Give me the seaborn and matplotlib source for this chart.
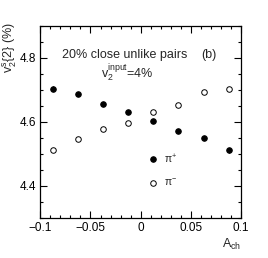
import matplotlib.pyplot as plt
import matplotlib
import numpy as np
import seaborn as sns
import pandas as pd
from matplotlib.ticker import MultipleLocator

sns.set_theme(style='ticks')
matplotlib.rcParams['font.family'] = ['Liberation Sans', 'DejaVu Sans']
matplotlib.rcParams['mathtext.fontset'] = 'custom'
matplotlib.rcParams['mathtext.rm'] = 'Liberation Sans'
matplotlib.rcParams['mathtext.it'] = 'Liberation Sans'

a_ch = [-0.0875, -0.0625, -0.0375, -0.0125, 0.0125, 0.0375, 0.0625, 0.0875]
v2_pip = [4.704, 4.688, 4.657, 4.630, 4.602, 4.572, 4.549, 4.511]
v2_pim = [4.512, 4.547, 4.578, 4.597, 4.632, 4.654, 4.693, 4.702]
err_pip = [0.007, 0.003, 0.003, 0.003, 0.003, 0.003, 0.003, 0.007]
err_pim = [0.007, 0.003, 0.003, 0.003, 0.003, 0.003, 0.003, 0.007]

df = pd.DataFrame({'A_ch': a_ch * 2,
                   'v2': v2_pip + v2_pim,
                   'err': err_pip + err_pim,
                   'particle': ['pip'] * 8 + ['pim'] * 8})

fig, ax = plt.subplots(figsize=(2.68, 2.58), dpi=100)
fig.subplots_adjust(left=0.15, right=0.9, top=0.9, bottom=0.155)

for name, face in [('pip', 'black'), ('pim', 'white')]:
    sub = df[df['particle'] == name]
    ax.errorbar(sub['A_ch'], sub['v2'], yerr=sub['err'], fmt='none',
                ecolor='black', elinewidth=0.8, capsize=0, zorder=2)
    sns.scatterplot(data=sub, x='A_ch', y='v2', ax=ax, color=face,
                    edgecolor='black', linewidth=0.7, s=16, zorder=3, legend=False)

ax.set_xlim(-0.1, 0.1)
ax.set_ylim(4.3, 4.9)
ax.xaxis.set_major_locator(MultipleLocator(0.05))
ax.xaxis.set_minor_locator(MultipleLocator(0.01))
ax.yaxis.set_major_locator(MultipleLocator(0.2))
ax.yaxis.set_minor_locator(MultipleLocator(0.05))
ax.set_xticks([-0.1, -0.05, 0, 0.05, 0.1])
ax.set_xticklabels(['\u22120.1', '\u22120.05', '0', '0.05', '0.1'])
ax.tick_params(which='both', direction='in', top=True, right=True,
               labelsize=8.5, width=0.8, colors='black', pad=3)
ax.tick_params(which='major', length=5)
ax.tick_params(which='minor', length=2.5)
for s in ax.spines.values():
    s.set_linewidth(0.9)
    s.set_color('black')

ax.set_xlabel('')
ax.set_ylabel('')
ax.text(-0.15, 0.885, r'v$_2^{\rm s}${2} (%)', fontsize=9, rotation=90,
        ha='center', va='center', transform=ax.transAxes)
ax.text(0.1, 4.24, r'A$_{\rm ch}$', fontsize=9, ha='right', va='top')

ax.text(-0.078, 4.808, '20% close unlike pairs', fontsize=9, va='center')
ax.text(0.060, 4.808, '(b)', fontsize=9, va='center')
ax.text(-0.040, 4.752, r'v$_2^{\rm input}$=4%', fontsize=9, va='center')

ax.scatter([0.0125], [4.484], s=16, c='black', edgecolors='black', linewidths=0.7)
ax.text(0.023, 4.484, r'$\pi^{+}$', fontsize=7.5, va='center')
ax.scatter([0.0125], [4.41], s=16, c='white', edgecolors='black', linewidths=0.7)
ax.text(0.023, 4.41, r'$\pi^{-}$', fontsize=7.5, va='center')

fig.savefig('out.png', dpi=100)
